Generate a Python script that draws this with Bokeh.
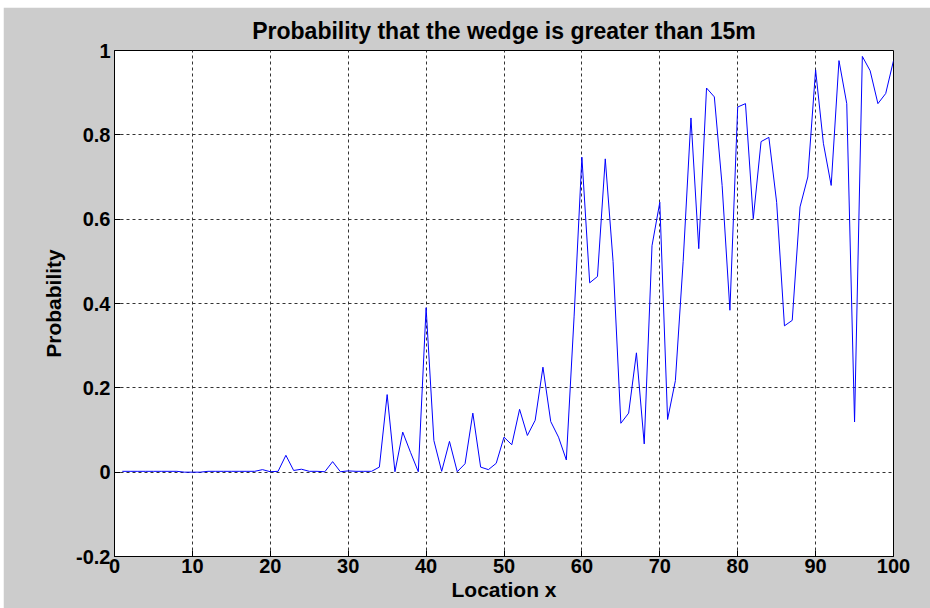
from bokeh.plotting import figure
from bokeh.models import Range1d, FixedTicker
from bokeh.embed import file_html
from bokeh.resources import INLINE

location = list(range(1, 101))
probability = [
    0.002, 0.002, 0.002, 0.002, 0.002, 0.002, 0.002, 0.002, 0.0, 0.0,
    0.0, 0.002, 0.002, 0.002, 0.002, 0.002, 0.002, 0.002, 0.006, 0.001,
    0.002, 0.04, 0.004, 0.007, 0.002, 0.002, 0.001, 0.025, 0.001, 0.003,
    0.002, 0.002, 0.002, 0.012, 0.184, 0.001, 0.095, 0.047, 0.001, 0.39,
    0.075, 0.002, 0.073, 0.001, 0.02, 0.14, 0.012, 0.006, 0.021, 0.083,
    0.065, 0.149, 0.087, 0.123, 0.249, 0.12, 0.083, 0.029, 0.37, 0.747,
    0.449, 0.464, 0.743, 0.5, 0.116, 0.14, 0.283, 0.067, 0.537, 0.64,
    0.125, 0.217, 0.5, 0.84, 0.53, 0.911, 0.89, 0.68, 0.384, 0.866,
    0.874, 0.601, 0.784, 0.794, 0.64, 0.347, 0.36, 0.629, 0.7, 0.954,
    0.78, 0.68, 0.976, 0.874, 0.119, 0.986, 0.952, 0.874, 0.898, 0.976,
]
x_ticks = [0, 10, 20, 30, 40, 50, 60, 70, 80, 90, 100]
y_ticks = [-0.2, 0, 0.2, 0.4, 0.6, 0.8, 1]
y_tick_labels = ["-0.2", "0", "0.2", "0.4", "0.6", "0.8", "1"]

FONT = "Liberation Sans"
GRAY = "#cccccc"

p = figure(width=927, height=601, output_backend="svg", toolbar_location=None,
           x_range=Range1d(0, 100), y_range=Range1d(-0.2, 1),
           title="Probability that the wedge is greater than 15m",
           min_border_left=111, min_border_right=37, min_border_top=43,
           min_border_bottom=52)
p.margin = (7, 0, 0, 3)
p.background_fill_color = "white"
p.border_fill_color = GRAY
p.outline_line_color = "black"
p.outline_line_width = 1

p.title.align = "center"
p.title.text_font = FONT
p.title.text_font_size = "23px"
p.title.text_font_style = "bold"
p.title.text_color = "black"
p.title.text_line_height = 1.0
p.title.standoff = 14

p.line(location, probability, line_color="#0000ff", line_width=1)

for ax in (p.xaxis[0], p.yaxis[0]):
    ax.major_label_text_font = FONT
    ax.major_label_text_font_size = "20px"
    ax.major_label_text_font_style = "bold"
    ax.major_label_text_color = "black"
    ax.axis_label_text_font = FONT
    ax.axis_label_text_font_size = "21px"
    ax.axis_label_text_font_style = "bold"
    ax.axis_label_text_color = "black"
    ax.major_tick_in = 6
    ax.major_tick_out = 0
    ax.minor_tick_in = 0
    ax.minor_tick_out = 0
    ax.axis_line_color = "black"
    ax.major_tick_line_color = "black"

p.xaxis.ticker = FixedTicker(ticks=x_ticks)
p.yaxis.ticker = FixedTicker(ticks=y_ticks)
p.yaxis.major_label_overrides = {t: l for t, l in zip(y_ticks, y_tick_labels)}
p.xaxis.axis_label = "Location x"
p.yaxis.axis_label = "Probability"
p.xaxis.major_label_standoff = 2
p.yaxis.major_label_standoff = 4
p.xaxis.axis_label_standoff = 2
p.yaxis.axis_label_standoff = 8

p.grid.grid_line_color = "#333333"
p.grid.grid_line_dash = "3 3"
p.grid.grid_line_width = 1

open("out.html", "w").write(file_html(p, INLINE))
